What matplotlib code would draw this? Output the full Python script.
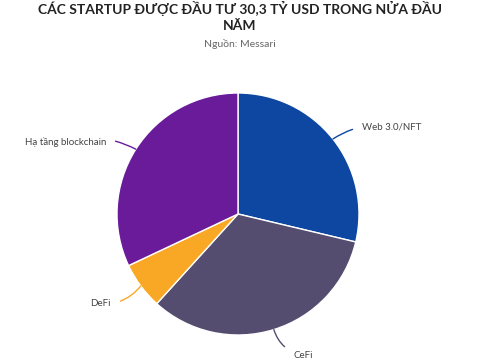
import numpy as np
import matplotlib
matplotlib.use('Agg')
import matplotlib.pyplot as plt

plt.rcParams['font.family'] = ['Lato', 'Noto Sans', 'DejaVu Sans']

labels = ['Web 3.0/NFT', 'CeFi', 'DeFi', 'Hạ tầng blockchain']
values = [8.7, 10.0, 1.9, 9.7]
colors = ['#0d47a1', '#544d70', '#f9a825', '#6a1b9a']

W, H = 480, 360
cx, cy, r = 238, H - 214, 121
# text anchor positions (pixels from top-left), alignment, curve
text_pos = [(362, 127, 'left', 0.2), (293, 355, 'left', -0.3),
            (111, 304, 'right', 0.25), (106, 142, 'right', -0.2)]

fig = plt.figure(figsize=(4.8, 3.6), dpi=100)
ax = fig.add_axes([0, 0, 1, 1])

wedges, _ = ax.pie(values, colors=colors, startangle=90, counterclock=False,
                   radius=r, center=(cx, cy), frame=True,
                   wedgeprops=dict(edgecolor='white', linewidth=1))
ax.set_xlim(0, W)
ax.set_ylim(0, H)
ax.set_aspect('equal')
ax.axis('off')

for w, lab, col, (tx, ty, ha, rad) in zip(wedges, labels, colors, text_pos):
    ang = np.deg2rad((w.theta1 + w.theta2) / 2)
    ex, ey = cx + r * np.cos(ang), cy + r * np.sin(ang)
    ax.annotate(lab, xy=(ex, ey), xytext=(tx, H - ty), ha=ha, va='center',
                fontsize=7, color='#444444',
                arrowprops=dict(arrowstyle='-', color=col, lw=1,
                                shrinkA=5, shrinkB=0,
                                connectionstyle=f'arc3,rad={rad}'))

fig.text(0.5, 1 - 16 / H, 'CÁC STARTUP ĐƯỢC ĐẦU TƯ 30,3 TỶ USD TRONG NỬA ĐẦU\nNĂM',
         ha='center', va='center', fontsize=10, fontweight='bold',
         color='#222222', linespacing=1.4)
fig.text(0.5, 1 - 44 / H, 'Nguồn: Messari', ha='center', va='center',
         fontsize=7.5, color='#666666')

fig.savefig('out.png', dpi=100)
